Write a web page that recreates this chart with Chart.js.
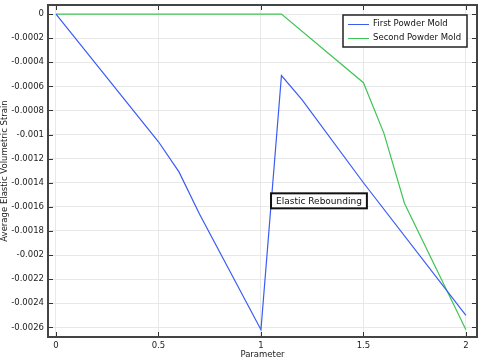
<!DOCTYPE html>
<html>
<head>
<meta charset="utf-8">
<script src="https://cdn.jsdelivr.net/npm/chart.js@4/dist/chart.umd.min.js"></script>
<style>
  body { margin: 0; background: #fff; }
  #wrap { width: 482px; height: 360px; }
</style>
</head>
<body>
<div id="wrap"><canvas id="myChart" width="482" height="360"></canvas></div>
<script>
// data
var firstX = [0, 0.5, 0.6, 0.7, 1.0, 1.1, 1.2, 1.5, 2.0];
var firstY = [0, -0.00106, -0.00131, -0.00166, -0.00262, -0.00051, -0.00071, -0.0014, -0.0025];
var secondX = [0, 1.1, 1.5, 1.6, 1.7, 2.0];
var secondY = [0, 0, -0.00057, -0.00099, -0.00157, -0.00262];
var xTicks = [0, 0.5, 1, 1.5, 2];
var yTicks = [0, -0.0002, -0.0004, -0.0006, -0.0008, -0.001, -0.0012, -0.0014, -0.0016, -0.0018, -0.002, -0.0022, -0.0024, -0.0026];
var seriesNames = ["First Powder Mold", "Second Powder Mold"];
var noteText = "Elastic Rebounding";
var noteAt = { x: 1.283, y: -0.00155 };

var blue = "#3a5cf5";
var green = "#3fc456";
var font = "DejaVu Sans";

function toPoints(xs, ys) {
  return xs.map(function (x, i) { return { x: x, y: ys[i] }; });
}

// inward ticks on all four sides + frame
var frameTicks = {
  id: "frameTicks",
  afterDatasetsDraw: function (chart) {
    var ctx = chart.ctx, a = chart.chartArea;
    var xs = chart.scales.x, ys = chart.scales.y;
    ctx.save();
    ctx.strokeStyle = "#333";
    ctx.lineWidth = 1;
    ctx.beginPath();
    xTicks.forEach(function (v) {
      var p = Math.round(xs.getPixelForValue(v)) + 0.5;
      ctx.moveTo(p, a.bottom); ctx.lineTo(p, a.bottom - 5);
      ctx.moveTo(p, a.top); ctx.lineTo(p, a.top + 5);
    });
    yTicks.forEach(function (v) {
      var p = Math.round(ys.getPixelForValue(v)) + 0.5;
      ctx.moveTo(a.left, p); ctx.lineTo(a.left + 5, p);
      ctx.moveTo(a.right, p); ctx.lineTo(a.right - 5, p);
    });
    ctx.stroke();
    ctx.lineWidth = 2;
    ctx.strokeStyle = "#444";
    ctx.strokeRect(a.left, a.top, a.right - a.left, a.bottom - a.top);
    ctx.restore();
  }
};

// legend box and text note
var boxes = {
  id: "boxes",
  afterDraw: function (chart) {
    var ctx = chart.ctx;
    var xs = chart.scales.x, ys = chart.scales.y;
    ctx.save();
    ctx.font = "8.5px '" + font + "'";
    ctx.textBaseline = "middle";
    // legend
    ctx.fillStyle = "#fff";
    ctx.fillRect(343, 15, 124, 32);
    ctx.strokeStyle = "#222";
    ctx.lineWidth = 1.5;
    ctx.strokeRect(343, 15, 124, 32);
    chart.data.datasets.forEach(function (ds, i) {
      var y = 24 + i * 14;
      ctx.strokeStyle = ds.borderColor;
      ctx.lineWidth = 1;
      ctx.beginPath();
      ctx.moveTo(348, y + 0.5); ctx.lineTo(369, y + 0.5);
      ctx.stroke();
      ctx.fillStyle = "#111";
      ctx.textAlign = "left";
      ctx.fillText(ds.label, 373, y);
    });
    // note
    ctx.font = "9px '" + font + "'";
    var cx = xs.getPixelForValue(noteAt.x);
    var cy = ys.getPixelForValue(noteAt.y);
    var w = ctx.measureText(noteText).width + 10;
    ctx.fillStyle = "#fff";
    ctx.fillRect(cx - w / 2, cy - 7.5, w, 15);
    ctx.strokeStyle = "#111";
    ctx.lineWidth = 2;
    ctx.strokeRect(cx - w / 2, cy - 7.5, w, 15);
    ctx.fillStyle = "#111";
    ctx.textAlign = "center";
    ctx.fillText(noteText, cx, cy + 0.5);
    ctx.restore();
  }
};

var config = {
  type: "line",
  data: {
    datasets: [
      { label: seriesNames[0], data: toPoints(firstX, firstY), borderColor: blue, borderWidth: 1.2, pointRadius: 0, tension: 0, fill: false },
      { label: seriesNames[1], data: toPoints(secondX, secondY), borderColor: green, borderWidth: 1.2, pointRadius: 0, tension: 0, fill: false }
    ]
  },
  options: {
    responsive: false,
    animation: false,
    layout: { padding: { top: 5, right: 5, left: 0, bottom: 0 } },
    plugins: { legend: { display: false }, tooltip: { enabled: false } },
    scales: {
      x: {
        type: "linear",
        min: -0.039,
        max: 2.054,
        afterBuildTicks: function (s) { s.ticks = xTicks.map(function (v) { return { value: v }; }); },
        afterFit: function (s) { s.height = 23; s.paddingLeft = 0; s.paddingRight = 0; },
        grid: { color: "#e8e8e8", drawTicks: false },
        border: { display: false },
        ticks: { padding: 4, color: "#222", font: { family: font, size: 8.5 }, maxRotation: 0,
          callback: function (v) { return String(v); } },
        title: { display: true, text: "Parameter", color: "#222", font: { family: font, size: 8.5 }, padding: { top: -2, bottom: 0 } }
      },
      y: {
        min: -0.00268,
        max: 0.000075,
        afterBuildTicks: function (s) { s.ticks = yTicks.map(function (v) { return { value: v }; }); },
        afterFit: function (s) { s.width = 48; s.paddingTop = 0; s.paddingBottom = 0; },
        grid: { color: "#e8e8e8", drawTicks: false },
        border: { display: false },
        ticks: { padding: 4, color: "#222", font: { family: font, size: 8.5 },
          callback: function (v) { return String(parseFloat(v.toFixed(5))); } },
        title: { display: true, text: "Average Elastic Volumetric Strain", color: "#222", font: { family: font, size: 8.5 }, padding: 0 }
      }
    }
  },
  plugins: [frameTicks, boxes]
};

new Chart(document.getElementById("myChart"), config);
</script>
</body>
</html>
